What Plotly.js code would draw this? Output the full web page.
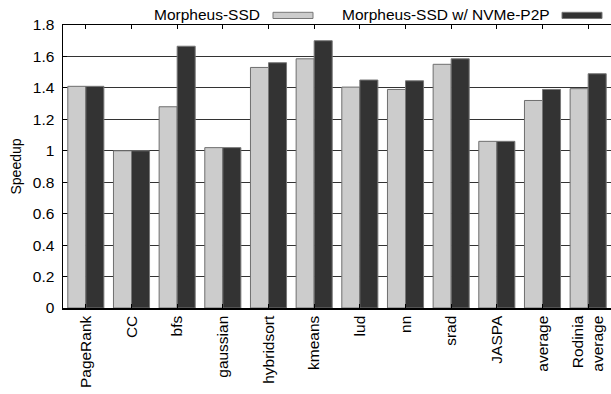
<!DOCTYPE html>
<html>
<head>
<meta charset="utf-8">
<script src="https://cdn.plot.ly/plotly-3.0.1.min.js"></script>
<style>html,body{margin:0;padding:0;background:#fff;}#chart{width:611px;height:394px;}</style>
</head>
<body>
<div id="chart"></div>
<script>
const categories = ["PageRank", "CC", "bfs", "gaussian", "hybridsort", "kmeans", "lud", "nn", "srad", "JASPA", "average", "Rodinia<br>average"];
const seriesNames = ["Morpheus-SSD", "Morpheus-SSD w/ NVMe-P2P"];
const morpheusSSD = [1.41, 1.0, 1.28, 1.02, 1.53, 1.585, 1.405, 1.39, 1.55, 1.06, 1.32, 1.395];
const morpheusP2P = [1.41, 1.0, 1.665, 1.02, 1.56, 1.70, 1.45, 1.445, 1.585, 1.06, 1.39, 1.49];
const yTicks = [0, 0.2, 0.4, 0.6, 0.8, 1, 1.2, 1.4, 1.6, 1.8];
const colors = ["#cccccc", "#333333"];

const FONT = "Liberation Sans, Arial, Helvetica, sans-serif";

const traces = [
  {type: "bar", name: seriesNames[0], x: categories, y: morpheusSSD,
   marker: {color: colors[0], line: {color: "#6e6e6e", width: 1}}, showlegend: false},
  {type: "bar", name: seriesNames[1], x: categories, y: morpheusP2P,
   marker: {color: colors[1], line: {color: "#777777", width: 1}}, showlegend: false}
];

// legend: text followed by swatch (gnuplot style)
const W = 548, H = 283, L = 63, B = 308;
const px = v => (v - L) / W;
const py = v => (B - v) / H;
const legendItems = [
  {text: seriesNames[0], textRight: 262, sw0: 273, sw1: 313, color: colors[0], line: "#777777"},
  {text: seriesNames[1], textRight: 552, sw0: 562, sw1: 602, color: colors[1], line: "#777777"}
];
const annotations = legendItems.map(it => ({
  text: it.text, xref: "paper", yref: "paper", x: px(it.textRight), y: py(14.8),
  xanchor: "right", yanchor: "middle", showarrow: false,
  font: {family: FONT, size: 15.5, color: "#000"}
}));
const shapes = legendItems.map(it => ({
  type: "rect", xref: "paper", yref: "paper",
  x0: px(it.sw0), x1: px(it.sw1), y0: py(18.5), y1: py(12.3),
  fillcolor: it.color, line: {color: it.line, width: 1}
}));

const layout = {
  width: 611, height: 394,
  margin: {l: L, r: 0, t: 25, b: 86, pad: 0},
  paper_bgcolor: "#fff", plot_bgcolor: "#fff",
  barmode: "group", bargap: 0.21, bargroupgap: 0,
  font: {family: FONT, size: 15, color: "#000"},
  xaxis: {
    tickangle: -90, showline: true, linecolor: "#000", linewidth: 1.5, mirror: "ticks",
    ticks: "inside", ticklen: 4, tickcolor: "#000", showgrid: false,
    tickfont: {family: FONT, size: 15.5, color: "#000"}, automargin: false
  },
  yaxis: {
    range: [0, 1.8], tickvals: yTicks, ticktext: yTicks.map(String),
    showline: true, linecolor: "#000", linewidth: 1.5, mirror: true,
    ticks: "inside", ticklen: 4, tickcolor: "#000",
    showgrid: true, gridcolor: "#333", gridwidth: 1, zeroline: false,
    tickfont: {family: FONT, size: 15.5, color: "#000"}, ticklabelstandoff: 4,
    title: {text: "Speedup", font: {family: FONT, size: 14, color: "#000"}, standoff: 8},
    automargin: false
  },
  annotations: annotations,
  shapes: shapes
};

Plotly.newPlot("chart", traces, layout, {displayModeBar: false, staticPlot: true});
</script>
</body>
</html>
